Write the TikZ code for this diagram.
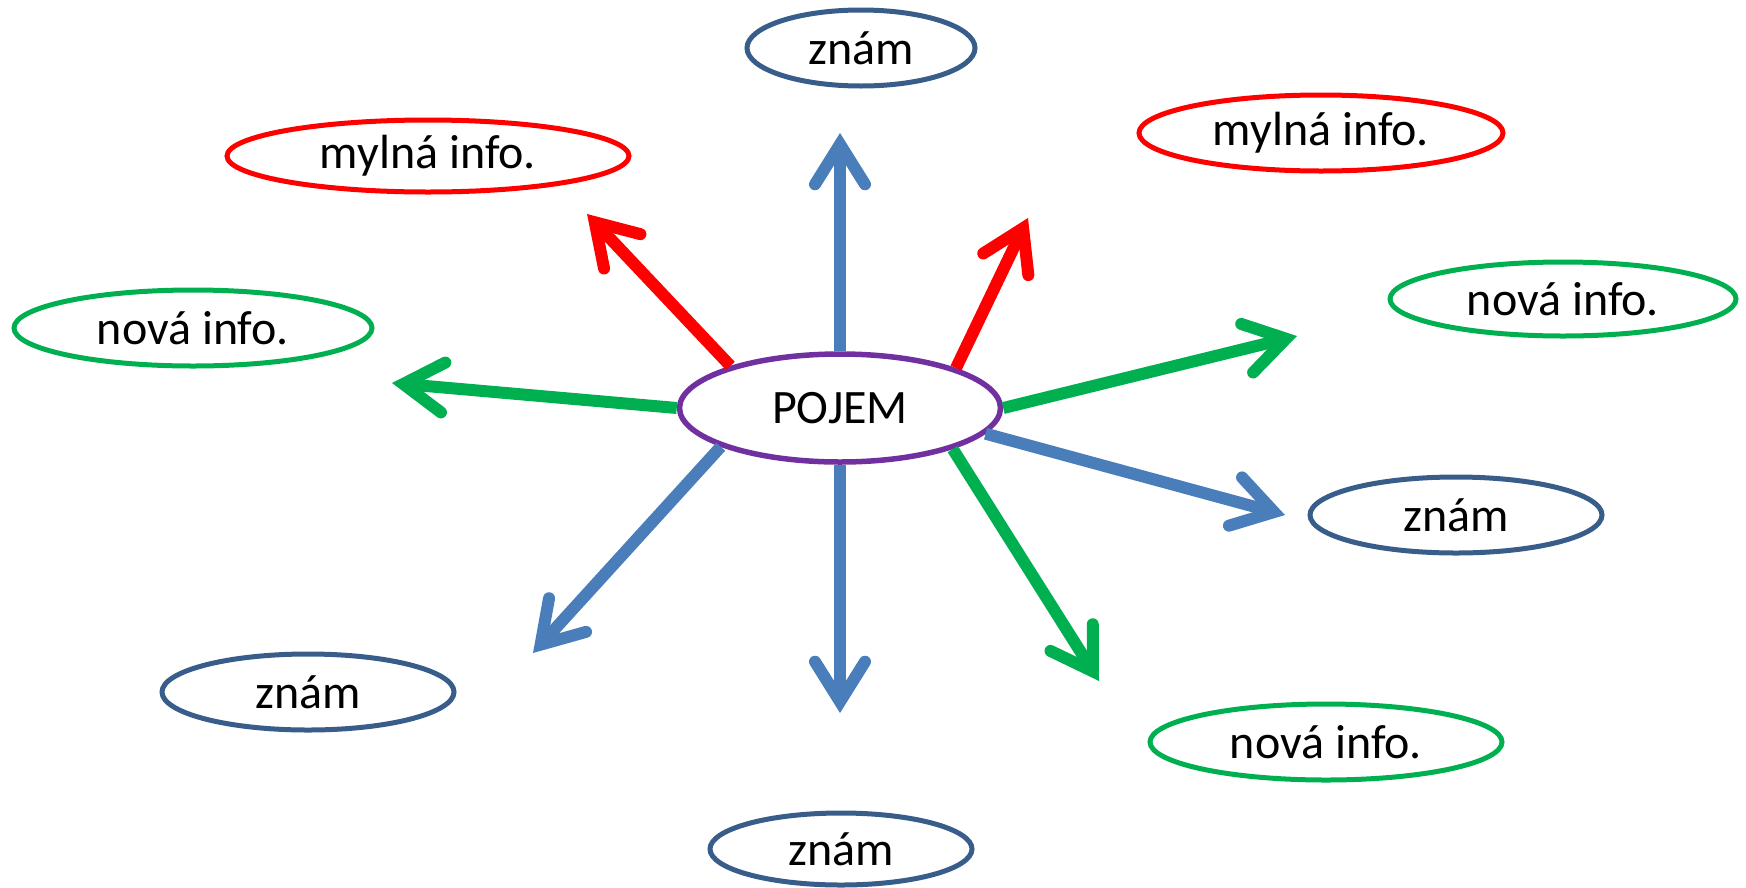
\documentclass[tikz,border=0pt]{standalone}
\usepackage{fontspec}
\setmainfont{Carlito}
\usetikzlibrary{shapes.geometric,arrows.meta}
\definecolor{arrblue}{HTML}{4A7EBB}
\definecolor{ellblue}{HTML}{385D8A}
\definecolor{mygreen}{HTML}{00B050}
\definecolor{myred}{HTML}{FF0000}
\definecolor{mypurple}{HTML}{7030A0}
\tikzset{
  bubble/.style={ellipse, draw, line width=5pt, inner sep=0pt, fill=white,
    font=\fontsize{48}{58}\selectfont, text=black},
  ray/.style={line width=12pt, -{Straight Barb[length=40pt, width=50pt, line cap=round, line join=miter]}},
}
\begin{document}
\begin{tikzpicture}[x=1pt, y=-1pt]
\useasboundingbox (0,0) rectangle (1746,887);
% central
\node[bubble, draw=mypurple, line width=5.5pt, minimum width=321pt, minimum height=108pt] (c) at (840,408) {POJEM};
% outer bubbles
\node[bubble, draw=ellblue, minimum width=228pt, minimum height=76pt] (zt) at (861,48) {znám};
\node[bubble, draw=myred, minimum width=402pt, minimum height=72pt] (ml) at (428,156) {mylná info.};
\node[bubble, draw=myred, minimum width=364pt, minimum height=76pt] (mr) at (1321,133) {mylná info.};
\node[bubble, draw=mygreen, minimum width=358pt, minimum height=76pt] (nl) at (193,328) {nová info.};
\node[bubble, draw=mygreen, minimum width=346pt, minimum height=74pt] (nr) at (1563,299) {nová info.};
\node[bubble, draw=ellblue, minimum width=292pt, minimum height=76pt] (zr) at (1456,515) {znám};
\node[bubble, draw=ellblue, minimum width=292pt, minimum height=76pt] (zl) at (308,692) {znám};
\node[bubble, draw=mygreen, minimum width=352pt, minimum height=76pt] (nb) at (1326,742) {nová info.};
\node[bubble, draw=ellblue, minimum width=262pt, minimum height=72pt] (zb) at (841,849) {znám};
% arrow ends
\coordinate (eu) at (840,133);
\coordinate (eul) at (587,214);
\coordinate (eur) at (1028,218);
\coordinate (er) at (1297,336);
\coordinate (erb) at (1285,515);
\coordinate (elr) at (1099,681);
\coordinate (ed) at (840,713);
\coordinate (ell) at (533,653);
\coordinate (el) at (392,383);
% arrows
\draw[ray, arrblue] (c.90) -- (eu);
\draw[ray, myred] (c.159.8) -- (eul);
\draw[ray, myred] (c.19.6) -- (eur);
\draw[ray, mygreen] (c.0.5) -- (er);
\draw[ray, arrblue] (c.-10.4) -- (erb);
\draw[ray, mygreen] (c.-20.7) -- (elr);
\draw[ray, arrblue] (c.-90) -- (ed);
\draw[ray, arrblue] (c.198.9) -- (ell);
\draw[ray, mygreen] (c.180.7) -- (el);
\end{tikzpicture}
\end{document}
